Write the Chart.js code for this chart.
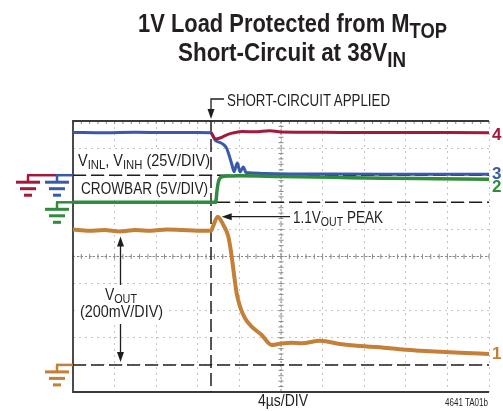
<!DOCTYPE html>
<html><head><meta charset="utf-8">
<script src="https://cdn.jsdelivr.net/npm/chart.js@4/dist/chart.umd.min.js"></script>
<style>
html,body{margin:0;padding:0;background:#fff;}
#wrap{position:relative;width:503px;height:411px;overflow:hidden;font-family:"Liberation Sans",Arial,Helvetica,sans-serif;color:#231f20;}
canvas{position:absolute;left:0;top:0;}
.t{position:absolute;white-space:nowrap;line-height:1;transform-origin:0 0;}
.title{font-weight:bold;font-size:26px;}
sub{font-size:0.78em;vertical-align:-0.28em;line-height:0;}
.title sub{font-size:0.84em;vertical-align:-0.26em;}
.lbl{font-size:16px;}
.tr{font-weight:bold;font-size:17px;left:492px;}
</style></head><body>
<div id="wrap">
<canvas id="c" width="503" height="411"></canvas>
<div class="t title" style="left:138px;top:10px" data-w="309">1V Load Protected from M<sub>TOP</sub></div>
<div class="t title" style="left:178px;top:39px" data-w="228">Short-Circuit at 38V<sub>IN</sub></div>
<div class="t lbl" style="left:227px;top:93px" data-w="163">SHORT-CIRCUIT APPLIED</div>
<div class="t lbl" style="left:78px;top:153px" data-w="132">V<sub>INL</sub>, V<sub>INH</sub> (25V/DIV)</div>
<div class="t lbl" style="left:81px;top:181px" data-w="127">CROWBAR (5V/DIV)</div>
<div class="t lbl" style="left:293px;top:210px" data-w="90">1.1V<sub>OUT</sub> PEAK</div>
<div class="t lbl" style="left:105px;top:287px" data-w="32">V<sub>OUT</sub></div>
<div class="t lbl" style="left:80px;top:304px" data-w="83">(200mV/DIV)</div>
<div class="t lbl" style="left:258px;top:393px" data-w="50">4µs/DIV</div>
<div class="t" style="left:445px;top:397px;font-size:11px" data-w="43">4641 TA01b</div>
<div class="t tr" style="top:126px;color:#a3193a">4</div>
<div class="t tr" style="top:165px;color:#3a59ad">3</div>
<div class="t tr" style="top:178px;color:#2f8c3c">2</div>
<div class="t tr" style="top:345px;color:#c47f38">1</div>
</div>
<script>
// ---- data (time in µs, 4µs/DIV) ----
const shortTime = 13.27;
const voutTime  = [0, 1.5, 3, 4.5, 6, 7.5, 9, 10.5, 12, 13.27, 13.5, 13.91, 14.45, 14.94, 15.26, 15.51, 15.74, 16.06, 16.54, 17.18, 18.14, 19.1, 19.74, 21.0, 22.0, 23.75, 25.67, 27.6, 29.5, 31.4, 33.4, 35.3, 37.2, 40];
const voutVolts = [1.0, 0.99, 0.995, 0.985, 0.995, 0.99, 1.0, 0.995, 0.99, 0.99, 1.03, 1.094, 1.033, 0.946, 0.799, 0.651, 0.528, 0.430, 0.344, 0.282, 0.221, 0.147, 0.154, 0.164, 0.16, 0.179, 0.154, 0.139, 0.13, 0.115, 0.105, 0.097, 0.09, 0.08];
const crowbarTime  = [0, 13.72, 13.85, 14.0, 14.3, 15, 16, 20, 25, 30, 35, 40];
const crowbarVolts = [0, 0, 2.2, 3.9, 4.7, 4.85, 4.9, 4.75, 4.6, 4.45, 4.35, 4.25];
const trace3Time  = [0, 3, 6, 9, 12, 13.27, 13.65, 14.3, 14.78, 15.0, 15.29, 15.48, 15.8, 16.06, 16.38, 16.63, 17.31, 18.46, 25, 32, 40];
const trace3Volts = [39.5, 39.2, 39.6, 39.3, 39.4, 39.2, 32.5, 29.4, 24.8, 18.6, 9.4, 3.2, 11.3, 3.0, 7.6, 2.5, 2.0, 1.6, 1.0, 0.9, 0.8];
const trace4Time  = [13.27, 13.72, 14.13, 14.9, 15.58, 16.3, 17.5, 18.9, 20, 24, 28, 32, 36, 40];
const trace4Volts = [39.2, 33.4, 34.3, 37.7, 39.4, 40.3, 40.0, 41.0, 39.9, 39.6, 39.4, 39.4, 39.3, 39.2];

// condense text to the reference's narrow typeface widths
document.querySelectorAll('[data-w]').forEach(el => {
  const w = el.getBoundingClientRect().width;
  el.style.transform = 'scaleX(' + (parseFloat(el.dataset.w) / w) + ')';
});

const pts = (t, v) => t.map((x, i) => ({x, y: v[i]}));

function arrowHead(ctx, tx, ty, dir, len, half) {
  ctx.beginPath();
  if (dir === 'down') { ctx.moveTo(tx, ty); ctx.lineTo(tx - half, ty - len); ctx.lineTo(tx + half, ty - len); }
  if (dir === 'up')   { ctx.moveTo(tx, ty); ctx.lineTo(tx - half, ty + len); ctx.lineTo(tx + half, ty + len); }
  if (dir === 'left') { ctx.moveTo(tx, ty); ctx.lineTo(tx + len, ty - half); ctx.lineTo(tx + len, ty + half); }
  ctx.closePath(); ctx.fill();
}
function ground(ctx, vx, y, color, lineFrom, lineTo) {
  ctx.strokeStyle = color; ctx.lineWidth = 2.5;
  ctx.beginPath(); ctx.moveTo(lineFrom, y); ctx.lineTo(lineTo, y); ctx.stroke();
  ctx.beginPath(); ctx.moveTo(vx, y); ctx.lineTo(vx, y + 7); ctx.stroke();
  ctx.lineWidth = 3;
  [[12, 7], [8, 13.5], [4, 20]].forEach(([hw, dy]) => {
    ctx.beginPath(); ctx.moveTo(vx - hw, y + dy); ctx.lineTo(vx + hw, y + dy); ctx.stroke();
  });
}

const decor = {
  id: 'decor',
  beforeDatasetsDraw(chart) {
    const {ctx, chartArea: a, scales: {x, yV, yC, yI}} = chart;
    ctx.save();
    // white label backgrounds
    ctx.fillStyle = '#fff';
    ctx.fillRect(a.left + 1, 150, 137, 23);
    ctx.fillRect(a.left + 1, 178, 136, 22);
    ctx.fillRect(a.left + 3, 284, 93, 39);
    // center cross with ticks
    const cx = x.getPixelForValue(20), cy = yV.getPixelForValue(0.8);
    ctx.strokeStyle = '#8a8a8a'; ctx.lineWidth = 1;
    ctx.setLineDash([2, 2]);
    ctx.beginPath(); ctx.moveTo(a.left, cy); ctx.lineTo(a.right, cy); ctx.moveTo(cx, a.top); ctx.lineTo(cx, a.bottom); ctx.stroke();
    ctx.setLineDash([]);
    ctx.beginPath();
    for (let t = 0; t <= 40.001; t += 0.8) { const px = x.getPixelForValue(t); ctx.moveTo(px, cy - 2.5); ctx.lineTo(px, cy + 2.5); ctx.moveTo(px, a.top); ctx.lineTo(px, a.top + 3); }
    for (let v = -0.2; v <= 1.801; v += 0.04) { const py = yV.getPixelForValue(v); ctx.moveTo(cx - 2.5, py); ctx.lineTo(cx + 2.5, py); }
    ctx.stroke();
    // borders
    ctx.strokeStyle = '#3a3a3a'; ctx.lineWidth = 1.8;
    ctx.beginPath(); ctx.moveTo(a.right, a.top); ctx.lineTo(a.left, a.top); ctx.lineTo(a.left, a.bottom); ctx.lineTo(a.right, a.bottom); ctx.stroke();
    // dashed ground lines + trigger
    ctx.strokeStyle = '#1e1e1e'; ctx.lineWidth = 1.5; ctx.setLineDash([13, 5]);
    [yI.getPixelForValue(0), yC.getPixelForValue(0), yV.getPixelForValue(0)].forEach(py => {
      ctx.beginPath(); ctx.moveTo(a.left, py); ctx.lineTo(a.right, py); ctx.stroke();
    });
    const sx = x.getPixelForValue(shortTime);
    ctx.beginPath(); ctx.moveTo(sx, a.top); ctx.lineTo(sx, a.bottom); ctx.stroke();
    ctx.restore();
  },
  afterDatasetsDraw(chart) {
    const {ctx, chartArea: a, scales: {x, yV, yC, yI}} = chart;
    ctx.save();
    ctx.strokeStyle = '#1e1e1e'; ctx.fillStyle = '#1e1e1e'; ctx.lineWidth = 1.3;
    // short-circuit arrow
    const sx = x.getPixelForValue(shortTime);
    ctx.beginPath(); ctx.moveTo(sx + 13, 99); ctx.lineTo(sx, 99); ctx.lineTo(sx, a.top - 8); ctx.stroke();
    arrowHead(ctx, sx, a.top - 2, 'down', 10, 3.5);
    // peak arrow
    const pi = voutVolts.indexOf(Math.max(...voutVolts));
    const px = x.getPixelForValue(voutTime[pi]) + 4, py = yV.getPixelForValue(voutVolts[pi]);
    ctx.beginPath(); ctx.moveTo(290, py); ctx.lineTo(px + 8, py); ctx.stroke();
    arrowHead(ctx, px, py, 'left', 10, 3.5);
    // VOUT arrows
    const ax = 120.5;
    const topTip = yV.getPixelForValue(voutVolts[0]) + 7, botTip = yV.getPixelForValue(0) - 3;
    ctx.beginPath(); ctx.moveTo(ax, 285); ctx.lineTo(ax, topTip + 8); ctx.moveTo(ax, 324); ctx.lineTo(ax, botTip - 8); ctx.stroke();
    arrowHead(ctx, ax, topTip, 'up', 10, 3.5);
    arrowHead(ctx, ax, botTip, 'down', 10, 3.5);
    // ground symbols
    const gI = yI.getPixelForValue(0), gC = yC.getPixelForValue(0), gV = yV.getPixelForValue(0);
    ground(ctx, 28, gI, '#a3193a', 27, 56);
    ground(ctx, 57, gI, '#3a59ad', 56, a.left);
    ground(ctx, 57, gC, '#2f8c3c', 56, a.left);
    ground(ctx, 57, gV, '#c47f38', 56, a.left);
    ctx.restore();
  }
};

const lineDs = (data, color, w, axis) => ({
  data, borderColor: color, borderWidth: w, pointRadius: 0, yAxisID: axis,
  cubicInterpolationMode: 'monotone', fill: false
});

new Chart(document.getElementById('c'), {
  type: 'line',
  data: {
    datasets: [
      lineDs(pts(voutTime, voutVolts), '#c47f38', 4, 'yV'),
      lineDs(pts(trace4Time, trace4Volts), '#a3193a', 3, 'yI'),
      lineDs(pts(crowbarTime, crowbarVolts), '#2f8c3c', 3.5, 'yC'),
      lineDs(pts(trace3Time, trace3Volts), '#3a59ad', 3, 'yI')
    ]
  },
  options: {
    responsive: false, animation: false, devicePixelRatio: 1,
    layout: {padding: {left: 73, top: 121, right: 14, bottom: 19}},
    plugins: {legend: {display: false}, tooltip: {enabled: false}, title: {display: false}},
    scales: {
      x: {type: 'linear', min: 0, max: 40,
          ticks: {display: false, stepSize: 4},
          grid: {color: '#c4c4c4', lineWidth: 1, drawTicks: false},
          border: {display: false, dash: [2, 4]}},
      yV: {type: 'linear', position: 'left', min: -0.2, max: 1.8,
          ticks: {display: false, stepSize: 0.2},
          grid: {color: '#c4c4c4', lineWidth: 1, drawTicks: false},
          border: {display: false, dash: [2, 4]}},
      yC: {type: 'linear', display: false, min: -35, max: 15},
      yI: {type: 'linear', display: false, min: -200, max: 50}
    }
  },
  plugins: [decor]
});
</script>
</body></html>
